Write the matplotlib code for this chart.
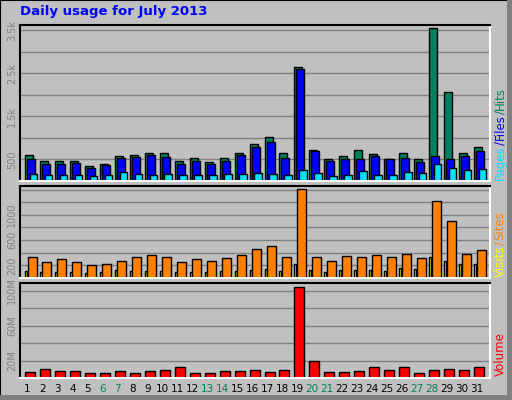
import matplotlib
matplotlib.use("Agg")
import matplotlib.pyplot as plt
from matplotlib.patches import Rectangle
import numpy as np

days = list(range(1, 32))
weekend = [6, 7, 13, 14, 20, 21, 27, 28]
hits = [600,460,460,460,340,405,575,600,645,645,460,530,435,530,645,855,1010,640,2645,730,500,590,710,615,520,640,500,3555,2060,640,780]
files = [520,390,390,410,310,365,545,550,600,550,390,460,390,460,600,785,895,545,2600,685,475,520,500,570,500,545,450,570,500,590,685]
pages = [155,150,150,150,110,150,200,155,150,160,150,150,150,160,160,180,170,150,265,195,125,150,240,150,150,220,195,405,310,265,290]
sites = [340,255,295,255,210,225,270,340,370,340,255,295,270,310,370,455,500,340,1410,340,270,355,325,370,325,385,310,1220,900,385,440]
visits = [115,100,100,100,85,100,130,115,115,115,100,100,100,115,115,130,150,115,225,130,100,130,130,130,115,165,150,325,270,215,215]
volume = [7.3,10.8,8.5,8.5,6.2,6.2,8.5,6.2,8.5,9.6,13,6.2,6.2,8.5,8.5,9.6,7.3,9.6,104,20,7.3,7.3,8.5,13,9.6,13,6.2,9.6,10.8,9.6,13]

BG = "#c0c0c0"
GRID = "#808080"
fig = plt.figure(figsize=(5.12, 4.0), dpi=100, facecolor=BG)
W, H = 512, 400
fig.patches.append(Rectangle((0, 0), 1, 1, transform=fig.transFigure, fill=False, ec="black", lw=1.5))
fig.patches.append(Rectangle((507/W, 0), 5/W, 1, transform=fig.transFigure, fc="#808080", ec="none"))
fig.patches.append(Rectangle((0, 0), 1, 5/H, transform=fig.transFigure, fc="#808080", ec="none"))

px = 14.97
u = 1/px
XL = (1 - 12/px, 1 + 458/px)

def mkax(top, bottom):
    ax = fig.add_axes([20/W, 1-bottom/H, 470/W, (bottom-top)/H])
    ax.set_facecolor(BG)
    ax.set_xlim(*XL)
    for s in ["left", "top"]:
        ax.spines[s].set_color("black"); ax.spines[s].set_linewidth(1.5)
    for s in ["right", "bottom"]:
        ax.spines[s].set_color("white"); ax.spines[s].set_linewidth(1.5)
    ax.set_xticks([])
    ax.tick_params(axis="y", length=0, labelsize=7, labelcolor=GRID, pad=2)
    ax.set_axisbelow(True)
    ax.yaxis.grid(True, color=GRID, lw=1)
    return ax

x = np.array(days, dtype=float)

ax1 = mkax(25, 181)
ax1.set_ylim(0, 3620)
ax1.set_yticks(range(500, 3600, 500))
ax1.set_yticklabels(["500", "", "1.5k", "", "2.5k", "", "3.5k"], rotation=90, va="center")
ax1.bar(x-3*u, hits, width=8*u, color="#00805c", ec="black", lw=1)
ax1.bar(x-1*u, files, width=8*u, color="#0000ff", ec="black", lw=1)
ax1.bar(x+1.5*u, pages, width=7.5*u, color="#00e0ff", ec="black", lw=1)

ax2 = mkax(186, 278)
ax2.set_ylim(0, 1456)
ax2.set_yticks(range(200, 1500, 200))
ax2.set_yticklabels(["200", "", "600", "", "1000", "", ""], rotation=90, va="center")
ax2.bar(x-6*u, visits, width=2*u, color="#ffff00", ec="black", lw=1)
ax2.bar(x, sites, width=9*u, color="#ff8000", ec="black", lw=1)

ax3 = mkax(283, 378)
ax3.set_ylim(0, 108.6)
ax3.set_yticks(range(20, 101, 20))
ax3.set_yticklabels(["20M", "", "60M", "", "100M"], rotation=90, va="center")
ax3.bar(x-2*u, volume, width=10*u, color="#ff0000", ec="black", lw=1)

for d in days:
    ax3.text(d - 0.3, -0.12, str(d), transform=ax3.get_xaxis_transform(), ha="center",
             va="center", fontsize=7.5, color="#00805c" if d in weekend else "black")

fig.text(20/W, 1-11/H, "Daily usage for July 2013", color="#0000ff", fontsize=9.5,
         fontweight="bold", ha="left", va="center")

renderer = fig.canvas.get_renderer()
def vlabel(parts, ystart):
    y = 1 - ystart/H
    for txt, col in parts:
        t = fig.text(500/W, y, txt, color=col, rotation=90, fontsize=8.5,
                     ha="center", va="bottom")
        bb = t.get_window_extent(renderer)
        y += bb.height / (H) + 0.5/H

vlabel([("Pages", "#00e0ff"), ("/", "#0000ff"), ("Files", "#0000ff"),
        ("/", "#00805c"), ("Hits", "#00805c")], 180)
vlabel([("Visits", "#ffff00"), ("/", "#ff8000"), ("Sites", "#ff8000")], 277)
vlabel([("Volume", "#ff0000")], 376)

fig.savefig("out.png", dpi=100, facecolor=BG)
